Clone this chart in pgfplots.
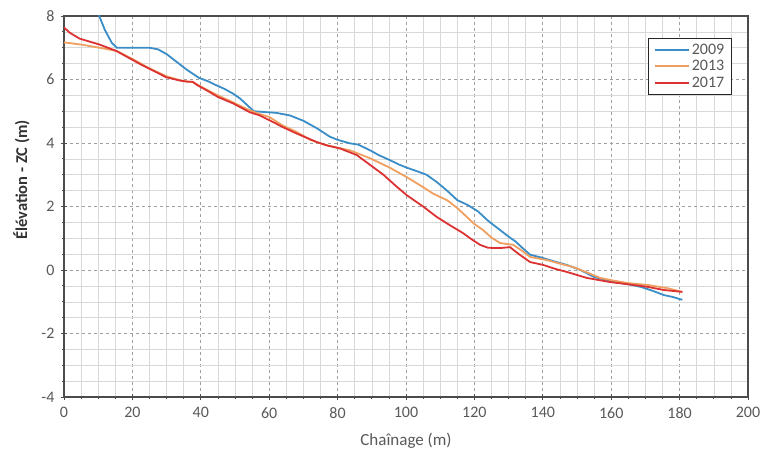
\documentclass[border=0pt]{standalone}
\usepackage{fontspec}
\setmainfont{Carlito}
\usepackage{pgfplots}
\pgfplotsset{compat=1.18}
\definecolor{c09}{HTML}{3A8DC6}
\definecolor{c13}{HTML}{EFA060}
\definecolor{c17}{HTML}{DC3232}
\definecolor{tickgray}{HTML}{595959}
\begin{document}
\begin{tikzpicture}
\begin{axis}[
  scale only axis,
  width=684pt, height=381pt,
  xmin=0, xmax=200, ymin=-4, ymax=8,
  xtick={0,20,...,200}, ytick={-4,-2,...,8},
  minor x tick num=3, minor y tick num=3,
  grid=both,
  major grid style={dashed, gray!75, line width=0.8pt},
  minor grid style={solid, gray!30, line width=0.5pt},
  axis line style={draw=black!70, line width=1.3pt},
  tick align=center,
  major tick length=6pt, minor tick length=3pt,
  tick style={black!70, line width=0.8pt},
  xtick pos=bottom, ytick pos=left,
  /pgf/number format/assume math mode=true,
  ticklabel style={font=\fontsize{16}{17}\selectfont, text=tickgray},
  xticklabel style={yshift=-4pt},
  yticklabel style={xshift=-3pt},
  xlabel={Chaînage (m)},
  ylabel={\bfseries Élévation - ZC (m)},
  xlabel style={font=\fontsize{17}{19}\selectfont, text=tickgray, yshift=-8pt},
  ylabel style={at={(ticklabel cs:0.57)}, font=\fontsize{16.5}{18}\selectfont, text=black!80, yshift=5pt},
  legend style={at={(0.854,0.942)}, anchor=north west, draw=black!85, line width=1.1pt,
    font=\fontsize{16}{16}\selectfont, text=tickgray, row sep=1pt, inner xsep=5pt, inner ysep=3pt},
  legend cell align=left,
  legend image code/.code={\draw[#1, line width=2pt] (0,0) -- (1.2cm,0);},
]
\coordinate (ll) at (rel axis cs:0,0);
\coordinate (ur) at (rel axis cs:1,1);
\addplot[c09, line width=1.8pt] coordinates {
(9.8,8.3)(10.3,8.0)(12,7.55)(14,7.15)(15.5,7.0)(20,7.0)(25,7.0)(27.5,6.95)(30,6.8)(33,6.55)(36,6.3)(39.5,6.05)(42,5.95)(44.5,5.82)(47,5.7)(49.5,5.55)(51.5,5.4)(53.5,5.2)(55.5,5.0)(58,4.98)(62,4.95)(66,4.87)(70,4.7)(74,4.46)(77.7,4.2)(80,4.1)(83.6,3.99)(86,3.95)(89.5,3.77)(92,3.62)(95.3,3.46)(98,3.32)(100.3,3.22)(103,3.12)(106,3.0)(109,2.77)(112,2.5)(115,2.2)(118,2.05)(121,1.85)(124,1.55)(127.5,1.26)(130,1.05)(132,0.9)(134,0.7)(136.3,0.48)(140,0.38)(143,0.28)(147,0.16)(151,0.0)(155,-0.22)(158,-0.3)(161,-0.38)(165,-0.45)(168.6,-0.53)(172,-0.65)(175.4,-0.79)(178,-0.85)(180.8,-0.94)
};
\addlegendentry{2009}
\addplot[c13, line width=1.8pt] coordinates {
(0,7.17)(5,7.1)(10.4,7.0)(15.3,6.9)(20,6.65)(25,6.35)(30,6.1)(34,5.97)(37.6,5.92)(41.7,5.68)(45,5.5)(49.4,5.28)(54.3,5.03)(57,4.92)(60,4.82)(64,4.55)(68,4.35)(72,4.1)(76,3.95)(80,3.85)(83.6,3.77)(89.5,3.52)(95.3,3.22)(100.3,2.92)(105,2.61)(108,2.4)(112,2.2)(115,1.95)(117.8,1.67)(120,1.45)(122.5,1.26)(125,1.02)(127.5,0.85)(131.4,0.79)(134,0.6)(136.3,0.41)(141.3,0.31)(145,0.2)(149,0.09)(153,-0.08)(156.8,-0.25)(160.5,-0.33)(164.7,-0.41)(170.6,-0.47)(176.3,-0.57)(180.8,-0.69)
};
\addlegendentry{2013}
\addplot[c17, line width=1.8pt] coordinates {
(0,7.64)(1.6,7.48)(4.5,7.29)(10.4,7.1)(15.3,6.9)(22,6.5)(29.9,6.07)(33.8,5.97)(36,5.93)(37.6,5.93)(39,5.82)(41.7,5.66)(45,5.45)(49.4,5.25)(54.3,4.97)(57.2,4.87)(60,4.72)(64,4.5)(68,4.3)(73.9,4.03)(77,3.92)(80.7,3.83)(85.6,3.62)(89,3.35)(93.4,3.0)(97,2.65)(100.3,2.35)(105,2.0)(109,1.67)(113,1.4)(116.7,1.16)(119,0.98)(121.7,0.79)(124,0.7)(127.5,0.69)(130.4,0.72)(133,0.5)(136.3,0.25)(140.1,0.16)(143.5,0.04)(147,-0.06)(152.9,-0.25)(159.7,-0.38)(166.5,-0.47)(170.6,-0.53)(175.4,-0.63)(180.8,-0.69)
};
\addlegendentry{2017}
\end{axis}
\pgfresetboundingbox
\path (ll) ++(-64pt,-57pt) rectangle ([shift={(15pt,16pt)}]ur);
\end{tikzpicture}
\end{document}
